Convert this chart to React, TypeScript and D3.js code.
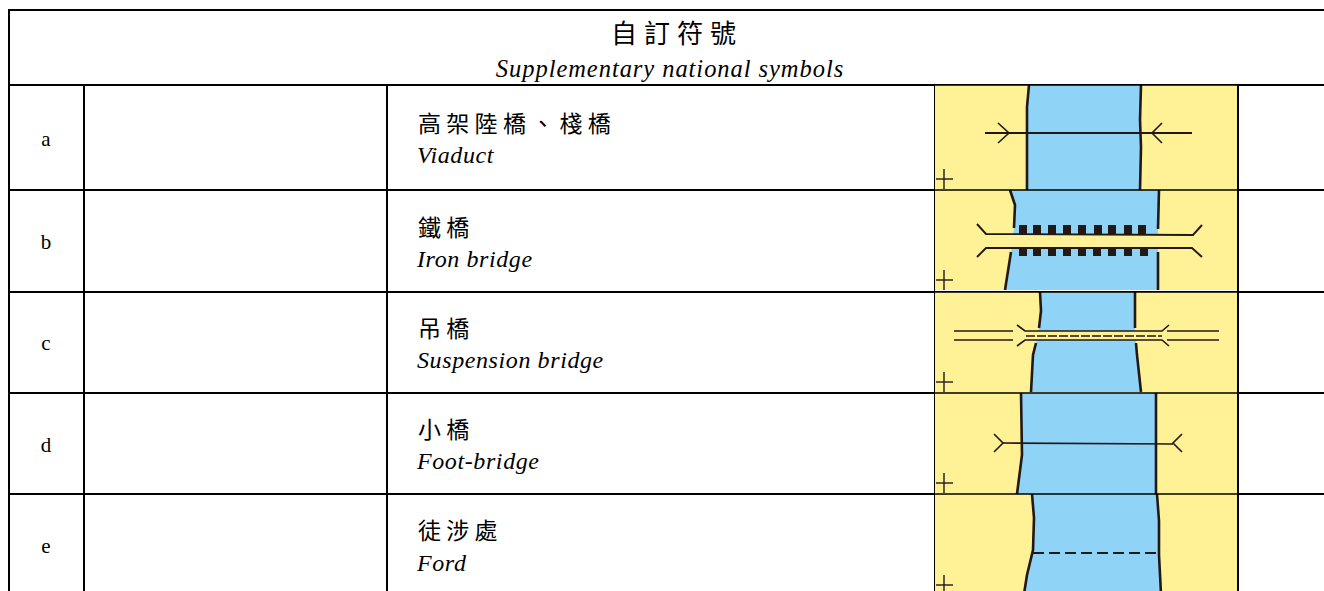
import React from 'react';
import * as d3 from 'd3';

type Pt = [number, number];

// table text
const rowLabels = ['a', 'b', 'c', 'd', 'e'];
const namesZh = ['高架陸橋、棧橋', '鐵橋', '吊橋', '小橋', '徒涉處'];
const namesEn = ['Viaduct', 'Iron bridge', 'Suspension bridge', 'Foot-bridge', 'Ford'];
const titleZh = '自訂符號';
const titleEn = 'Supplementary national symbols';

// river banks, in map units of each symbol cell
const leftBanks: Pt[][] = [
  [[94, 0], [92, 22], [92, 105]],
  [[75, 0], [80, 15], [79, 38], [76, 62], [70, 100]],
  [[105, 0], [106, 19], [104, 36], [101, 51], [98, 63], [96, 100]],
  [[86, 0], [87, 62], [82, 101]],
  [[97, 0], [99, 24], [98, 56], [92, 81], [89, 100]],
];
const rightBanks: Pt[][] = [
  [[206, 0], [205, 35], [206, 62], [205, 105]],
  [[224, 0], [223, 39], [223, 62], [223, 100]],
  [[200, 0], [200, 36], [201, 51], [202, 63], [206, 100]],
  [[221, 0], [221, 101]],
  [[222, 0], [224, 27], [224, 61], [226, 100]],
];
// where a bridge interrupts the bank line
const bankGaps: ([number, number] | null)[] = [null, [39, 62], [36, 51], null, null];
const crossY = [94, 90, 90, 90, 91];

// symbol a
const viaductDeck: Pt[] = [[50, 48], [257, 48]];
const viaductArrows: Pt[][] = [
  [[63, 38], [74, 48], [63, 58]],
  [[227, 38], [217, 48], [227, 58]],
];
// symbol b
const ironRails: Pt[][] = [
  [[42, 34], [51, 44], [258, 45], [267, 35]],
  [[42, 67], [51, 58], [257, 58], [267, 67]],
];
const ironDeck: Pt[] = [[51, 44], [258, 45], [257, 58], [51, 58]];
const ironBlocksTop = [88, 102, 117, 132, 147, 163, 177, 193, 207];
const ironBlocksBottom = [88, 102, 117, 132, 147, 162, 177, 193, 209];
// symbol c
const suspDeck: Pt[] = [[90, 39], [227, 39], [227, 48], [90, 48]];
const suspRails: Pt[][] = [
  [[82, 33], [90, 39], [227, 39], [234, 33]],
  [[82, 54], [90, 48], [227, 48], [234, 54]],
];
const suspRoads: Pt[][] = [
  [[19, 39], [78, 39]],
  [[19, 48], [78, 48]],
  [[232, 39], [284, 39]],
  [[232, 48], [284, 48]],
];
const suspDashes: Pt[] = [[91, 44], [227, 44]];
// symbol d
const footDeck: Pt[] = [[68, 50], [238, 51]];
const footForks: Pt[][] = [
  [[59, 41], [68, 50], [59, 59]],
  [[247, 41], [238, 50], [247, 59]],
];
// symbol e
const fordLine: Pt[] = [[98, 59], [224, 59]];

const rowEdges = [85, 190, 292, 393, 494, 600];
const labelY = [146, 249, 350, 452, 553];
const zhY = [132, 236, 337, 438, 539];
const enY = [163, 267, 368, 469, 571];
const YELLOW = '#fff195';
const BLUE = '#8fd3f6';
const INK = '#231815';
const CJK = '"Noto Sans CJK TC", "Liberation Serif", serif';
const LATIN = '"Liberation Serif", serif';

const x = d3.scaleLinear().domain([0, 303]).range([935, 1238]);

const App = () => {
  const rowY = (i: number) => d3.scaleLinear().domain([0, 100]).range([rowEdges[i], rowEdges[i] + 100]);
  const lineFor = (i: number) => {
    const y = rowY(i);
    return d3.line<Pt>().x(d => x(d[0])).y(d => y(d[1]));
  };

  const bankParts = (i: number, pts: Pt[]) => {
    const gap = bankGaps[i];
    if (!gap) return [pts];
    return [pts.filter(p => p[1] <= gap[0]), pts.filter(p => p[1] >= gap[1])];
  };

  const drawLines = (i: number, lines: Pt[][], width: number, dash?: string) =>
    lines.map((l, k) => (
      <path key={k} d={lineFor(i)(l) ?? ''} fill="none" stroke={INK} strokeWidth={width} strokeDasharray={dash} />
    ));

  const deckFill = (i: number, pts: Pt[]) => <path d={lineFor(i)(pts) + 'Z'} fill={YELLOW} />;

  const ironBlocks = (values: number[], top: number, bottom: number) => {
    const y = rowY(1);
    return values.map(v => (
      <rect key={v} x={x(v) - 4} y={y(top)} width={8} height={y(bottom) - y(top)} fill={INK} />
    ));
  };

  const bodies: React.ReactNode[] = [
    <>
      {drawLines(0, [viaductDeck], 1.8)}
      {drawLines(0, viaductArrows, 1.6)}
    </>,
    <>
      {deckFill(1, ironDeck)}
      {ironBlocks(ironBlocksTop, 35, 44)}
      {ironBlocks(ironBlocksBottom, 58, 66)}
      {drawLines(1, ironRails, 1.9)}
    </>,
    <>
      {deckFill(2, suspDeck)}
      {drawLines(2, suspRails, 1.6)}
      {drawLines(2, suspRoads, 1.6)}
      {drawLines(2, [suspDashes], 1.3, '9 2')}
    </>,
    <>
      {drawLines(3, [footDeck], 1.6)}
      {drawLines(3, footForks, 1.6)}
    </>,
    <>{drawLines(4, [fordLine], 1.9, '11 5')}</>,
  ];

  return (
    <svg
      width={1324}
      height={591}
      style={{ position: 'absolute', left: 0, top: 0, display: 'block', background: '#fff' }}
    >
      {/* grid, under the symbol cells */}
      <line x1={8} x2={1324} y1={10} y2={10} stroke="#000" strokeWidth={2} />
      <line x1={9} x2={9} y1={10} y2={591} stroke="#000" strokeWidth={2} />
      {rowEdges.slice(0, 5).map(e => (
        <line key={e} x1={8} x2={1324} y1={e} y2={e} stroke="#000" strokeWidth={2} />
      ))}
      {[84, 387].map(v => (
        <line key={v} x1={v} x2={v} y1={85} y2={591} stroke="#000" strokeWidth={2} />
      ))}

      {rowLabels.map((_, i) => {
        const line = lineFor(i);
        const bank = leftBanks[i].concat([...rightBanks[i]].reverse());
        const rowHeight = rowEdges[i + 1] - rowEdges[i] - (i === 1 ? 2 : 0);
        return (
          <g key={i}>
            <rect x={x(0)} y={rowEdges[i]} width={x(303) - x(0)} height={rowHeight} fill={YELLOW} />
            <path d={line(bank) + 'Z'} fill={BLUE} />
            {drawLines(i, bankParts(i, leftBanks[i]), 2.6)}
            {drawLines(i, bankParts(i, rightBanks[i]), 2.6)}
            {drawLines(i, [[[1, crossY[i]], [18, crossY[i]]], [[9, crossY[i] - 10], [9, crossY[i] + 10]]], 1.4)}
            {bodies[i]}
          </g>
        );
      })}

      {/* thin rules across the symbol column */}
      {rowEdges.slice(0, 5).map(e => (
        <line key={e} x1={x(0)} x2={x(303)} y1={e} y2={e} stroke="#000" strokeWidth={1.3} />
      ))}
      <line x1={934.5} x2={934.5} y1={85} y2={591} stroke="#000" strokeWidth={1} />
      <line x1={1238} x2={1238} y1={85} y2={591} stroke="#000" strokeWidth={2} />

      {/* header */}
      <text x={677} y={43} textAnchor="middle" fontFamily={CJK} fontSize={26} letterSpacing={7}>
        {titleZh}
      </text>
      <text x={670} y={77} textAnchor="middle" fontFamily={LATIN} fontStyle="italic" fontSize={24.5} letterSpacing={0.95}>
        {titleEn}
      </text>

      {/* rows */}
      {rowLabels.map((label, i) => (
        <g key={label}>
          <text x={46} y={labelY[i]} textAnchor="middle" fontFamily={LATIN} fontSize={21}>
            {label}
          </text>
          <text x={418} y={zhY[i]} fontFamily={CJK} fontSize={23} letterSpacing={5.3}>
            {namesZh[i]}
          </text>
          <text x={417} y={enY[i]} fontFamily={LATIN} fontStyle="italic" fontSize={24} letterSpacing={0.6}>
            {namesEn[i]}
          </text>
        </g>
      ))}
    </svg>
  );
};

export default App;
